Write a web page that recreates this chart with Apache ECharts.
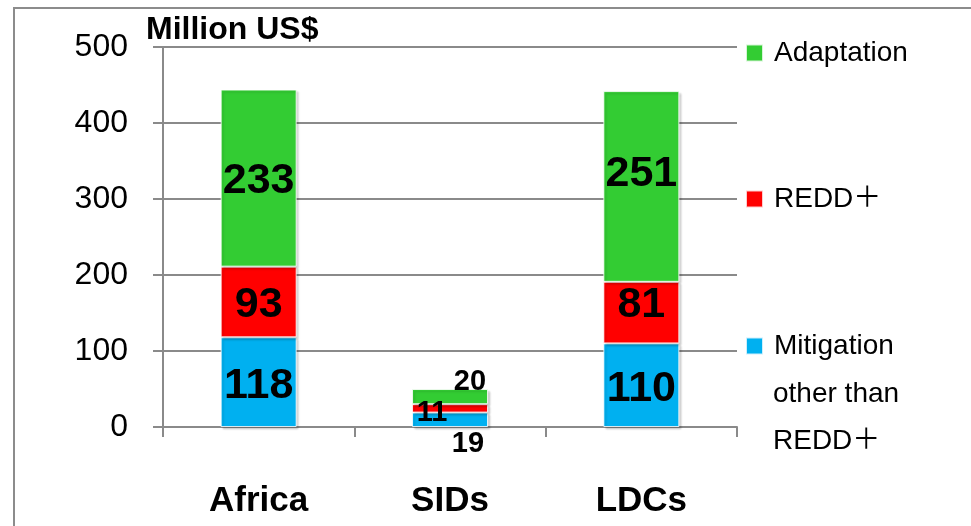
<!DOCTYPE html>
<html>
<head>
<meta charset="utf-8">
<script src="https://cdn.jsdelivr.net/npm/echarts@6/dist/echarts.min.js"></script>
<style>
html,body{margin:0;padding:0;background:#fff;}
#chart{width:971px;height:526px;}
</style>
</head>
<body>
<div id="chart"></div>
<script>
const categories = ['Africa', 'SIDs', 'LDCs'];
const mitigation = [118, 19, 110];
const redd = [93, 11, 81];
const adaptation = [233, 20, 251];
const yTicks = [0, 100, 200, 300, 400, 500];
const seriesNames = ['Mitigation', 'REDD＋', 'Adaptation'];

const SANS = "'Liberation Sans', Arial, 'Noto Sans CJK JP', sans-serif";

const chart = echarts.init(document.getElementById('chart'), null, {renderer: 'canvas'});

const baseLabel = {
  show: true, position: 'inside', color: '#000', fontFamily: SANS,
  fontWeight: 'bold', fontSize: 43
};
const small = {fontSize: 29, fontFamily: SANS, fontWeight: 'bold', color: '#000'};

function mkData(vals, overrides) {
  return vals.map((v, i) => overrides[i] ? {value: v, label: overrides[i]} : v);
}

const barStyle = (c) => ({
  color: c, borderColor: 'rgba(255,255,255,0.8)', borderWidth: 1,
  shadowColor: 'rgba(0,0,0,0.18)', shadowBlur: 2, shadowOffsetX: 2, shadowOffsetY: 2
});

chart.setOption({
  animation: false,
  grid: {left: 163, right: 234, top: 47, bottom: 99, containLabel: false},
  graphic: [
    {type: 'rect', shape: {x: 14, y: 8, width: 1000, height: 600}, style: {fill: 'none', stroke: '#8c8c8c', lineWidth: 2}, z: -10},
    {type: 'text', left: 146, top: 14, style: {text: 'Million US$', font: "bold 32px 'Liberation Sans', Arial, sans-serif", fill: '#000'}},
    {type: 'text', x: 773, y: 394, style: {text: 'other than', font: "28px 'Liberation Sans', Arial, sans-serif", fill: '#000', verticalAlign: 'middle'}},
    {type: 'text', x: 773, y: 441, style: {text: 'REDD＋', font: "28px 'Liberation Sans', Arial, 'Noto Sans CJK JP', sans-serif", fill: '#000', verticalAlign: 'middle'}}
  ],
  legend: [
    {data: ['Adaptation'], left: 745, top: 38},
    {data: ['REDD＋'], left: 745, top: 184},
    {data: ['Mitigation'], left: 745, top: 331}
  ].map(l => Object.assign(l, {
    orient: 'vertical', icon: 'rect', itemWidth: 17, itemHeight: 17, itemGap: 11,
    textStyle: {fontSize: 28, fontFamily: SANS, color: '#000', lineHeight: 30, padding: [0, 0, 0, 6]},
    padding: 0
  })),
  xAxis: {
    type: 'category', data: categories,
    axisLine: {lineStyle: {color: '#8a8a8a', width: 2}},
    axisTick: {show: true, length: 10, interval: 0, lineStyle: {color: '#8a8a8a', width: 2}},
    axisLabel: {fontFamily: SANS, fontWeight: 'bold', fontSize: 35, color: '#000', margin: 54, lineHeight: 40}
  },
  yAxis: {
    type: 'value', min: 0, max: 500, interval: 100,
    axisLine: {show: true, lineStyle: {color: '#8a8a8a', width: 2}},
    axisTick: {show: true, length: 10, lineStyle: {color: '#8a8a8a', width: 2}},
    splitLine: {show: true, lineStyle: {color: '#8a8a8a', width: 2}},
    axisLabel: {fontFamily: SANS, fontSize: 32, color: '#000', margin: 35,
      formatter: v => yTicks.includes(v) ? String(v) : ''}
  },
  series: [
    {
      name: seriesNames[0], type: 'bar', stack: 'total', barWidth: 76,
      itemStyle: barStyle('#00B0F0'), label: baseLabel,
      data: mkData(mitigation, {
        0: {offset: [0, 4]},
        1: Object.assign({position: 'bottom', distance: 2, offset: [18, 0]}, small),
        2: {offset: [0, 4]}
      })
    },
    {
      name: seriesNames[1], type: 'bar', stack: 'total', barWidth: 76,
      itemStyle: barStyle('#FF0000'), label: baseLabel,
      data: mkData(redd, {
        0: {offset: [0, 3]},
        1: Object.assign({position: 'inside', offset: [-18, 5]}, small),
        2: {offset: [0, -7]}
      })
    },
    {
      name: seriesNames[2], type: 'bar', stack: 'total', barWidth: 76,
      itemStyle: barStyle('#33CC33'), label: baseLabel,
      data: mkData(adaptation, {
        0: {offset: [0, 3]},
        1: Object.assign({position: 'top', distance: 0, offset: [20, 8]}, small),
        2: {offset: [0, -12]}
      })
    }
  ]
});
</script>
</body>
</html>
